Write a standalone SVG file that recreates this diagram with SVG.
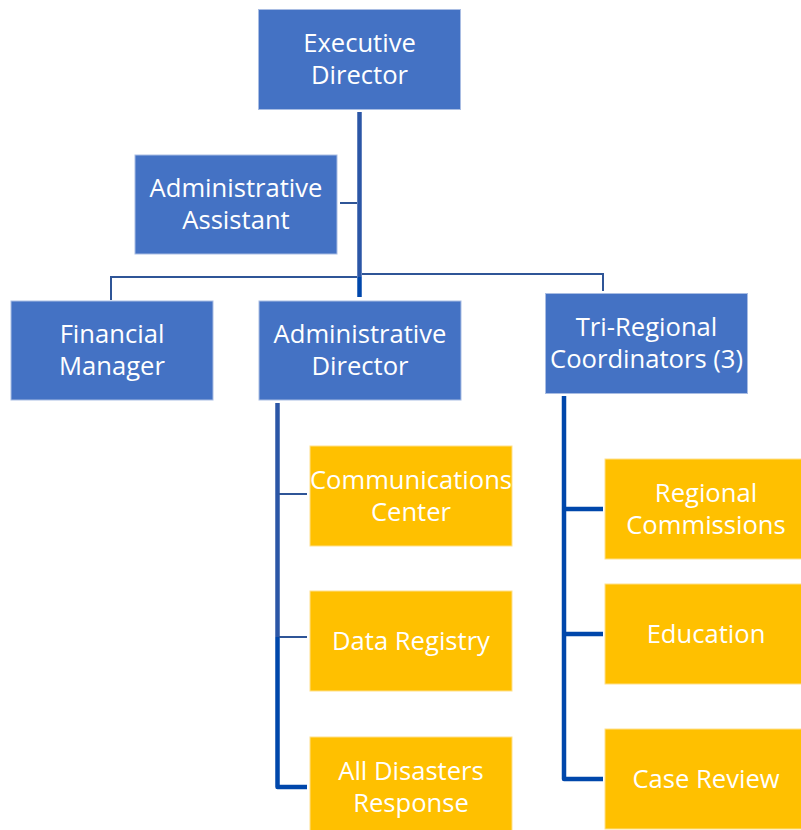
<svg xmlns="http://www.w3.org/2000/svg" width="801" height="830" viewBox="0 0 801 830">
  <style>
    .blue { fill: #4472C4; stroke: #A9BDE3; stroke-width: 1; }
    .gold { fill: #FFC000; stroke: #FFE08A; stroke-width: 1; }
    .lbl { font-family: "Open Sans", "Noto Sans", sans-serif; font-size: 25.6px; fill: #FFFFFF; text-anchor: middle; }
    .thin { stroke: #2F5597; stroke-width: 2; fill: none; }
    .trunk { stroke: #2B56A6; stroke-width: 4.5; fill: none; }
    .bold { stroke: #0047AB; stroke-width: 4.5; fill: none; }
  </style>

  <!-- connectors -->
  <g id="connectors">
    <!-- executive trunk -->
    <line class="trunk" x1="359.5" y1="112" x2="359.5" y2="277"/>
    <line class="bold" x1="359.5" y1="277" x2="359.5" y2="297"/>
    <!-- assistant branch -->
    <line class="thin" x1="340" y1="203" x2="357" y2="203"/>
    <!-- second-level bar -->
    <polyline class="thin" points="111,300 111,277 357,277"/>
    <polyline class="thin" points="362,274 603,274 603,291"/>
    <!-- administrative director children -->
    <line class="trunk" x1="277.5" y1="403" x2="277.5" y2="637"/>
    <polyline class="bold" points="277.5,637 277.5,787 307,787" stroke-linejoin="round"/>
    <line class="thin" x1="279" y1="494" x2="307" y2="494"/>
    <line class="thin" x1="279" y1="637" x2="307" y2="637"/>
    <!-- tri-regional children -->
    <polyline class="bold" points="564,396 564,779 603,779" stroke-linejoin="round"/>
    <line class="bold" x1="564" y1="509" x2="603" y2="509"/>
    <line class="bold" x1="564" y1="634" x2="603" y2="634"/>
  </g>

  <g id="executive-director">
    <rect class="blue" x="258.5" y="9.5" width="202" height="100"/>
    <text class="lbl" x="359.5" y="52">Executive</text>
    <text class="lbl" x="359.5" y="84">Director</text>
  </g>

  <g id="administrative-assistant">
    <rect class="blue" x="135" y="155" width="202" height="99"/>
    <text class="lbl" x="236" y="197">Administrative</text>
    <text class="lbl" x="236" y="229">Assistant</text>
  </g>

  <g id="financial-manager">
    <rect class="blue" x="11" y="301" width="202" height="99"/>
    <text class="lbl" x="112" y="343">Financial</text>
    <text class="lbl" x="112" y="375">Manager</text>
  </g>

  <g id="administrative-director">
    <rect class="blue" x="259" y="301" width="202" height="99"/>
    <text class="lbl" x="360" y="343">Administrative</text>
    <text class="lbl" x="360" y="375">Director</text>
  </g>

  <g id="tri-regional-coordinators">
    <rect class="blue" x="545.5" y="293.5" width="202" height="100"/>
    <text class="lbl" x="646.5" y="336">Tri-Regional</text>
    <text class="lbl" x="646.5" y="368">Coordinators (3)</text>
  </g>

  <g id="communications-center">
    <rect class="gold" x="310" y="446" width="202" height="100"/>
    <text class="lbl" x="411" y="489">Communications</text>
    <text class="lbl" x="411" y="521">Center</text>
  </g>

  <g id="data-registry">
    <rect class="gold" x="310" y="591" width="202" height="100"/>
    <text class="lbl" x="411" y="650">Data Registry</text>
  </g>

  <g id="all-disasters-response">
    <rect class="gold" x="310" y="737" width="202" height="100"/>
    <text class="lbl" x="411" y="780">All Disasters</text>
    <text class="lbl" x="411" y="812">Response</text>
  </g>

  <g id="regional-commissions">
    <rect class="gold" x="605" y="459" width="202" height="100"/>
    <text class="lbl" x="706" y="502">Regional</text>
    <text class="lbl" x="706" y="534">Commissions</text>
  </g>

  <g id="education">
    <rect class="gold" x="605" y="584" width="202" height="100"/>
    <text class="lbl" x="706" y="643">Education</text>
  </g>

  <g id="case-review">
    <rect class="gold" x="605" y="729" width="202" height="100"/>
    <text class="lbl" x="706" y="788">Case Review</text>
  </g>
</svg>
